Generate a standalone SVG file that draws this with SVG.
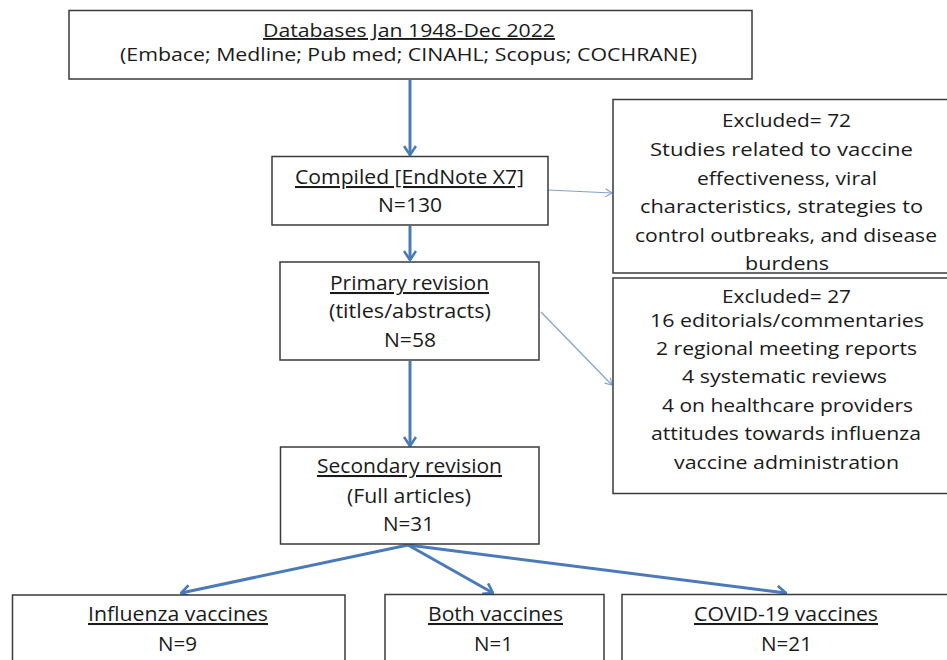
<svg xmlns="http://www.w3.org/2000/svg" width="947" height="660" viewBox="0 0 947 660">
<style>
.box{fill:#fff;stroke:#3a3a3a;stroke-width:1.5}
text{font-family:"Open Sans","Liberation Sans",sans-serif;font-size:19px;fill:#1a1a1a;text-anchor:middle}
.m text{font-size:20.5px}
.b text{font-size:20.5px}
.e text{font-size:18.5px}
.u{text-decoration:underline}
.thick{stroke:#4a7ab8;stroke-width:3;fill:none}
.thin{stroke:#7fa2cf;stroke-width:1.2;fill:none}
</style>
<defs>
<marker id="ah" viewBox="0 0 12 14" markerWidth="12" markerHeight="14" refX="11" refY="7" orient="auto" markerUnits="userSpaceOnUse">
<path d="M2,1 L11,7 L2,13" fill="none" stroke="#4a7ab8" stroke-width="2.6"/>
</marker>
<marker id="ahs" viewBox="0 0 8 10" markerWidth="8" markerHeight="10" refX="7.5" refY="5" orient="auto" markerUnits="userSpaceOnUse">
<path d="M1,1 L7.5,5 L1,9" fill="none" stroke="#7fa2cf" stroke-width="1.1"/>
</marker>
</defs>
<rect width="947" height="660" fill="#fff"/>

<g id="connectors">
<line class="thick" x1="410" y1="80" x2="410" y2="155" marker-end="url(#ah)"/>
<line class="thick" x1="410" y1="226" x2="410" y2="260" marker-end="url(#ah)"/>
<line class="thick" x1="410" y1="361" x2="410" y2="446" marker-end="url(#ah)"/>
<line class="thick" x1="408" y1="545" x2="181" y2="593" marker-end="url(#ah)"/>
<line class="thick" x1="408" y1="545" x2="493" y2="593" marker-end="url(#ah)"/>
<line class="thick" x1="408" y1="545" x2="786" y2="593" marker-end="url(#ah)"/>
<line class="thin" x1="548" y1="190" x2="612" y2="193" marker-end="url(#ahs)"/>
<line class="thin" x1="541" y1="312" x2="612" y2="385" marker-end="url(#ahs)"/>
</g>

<g id="databases">
<rect class="box" x="69" y="10.5" width="683" height="68.5"/>
<text class="u" x="409" y="37" textLength="292" lengthAdjust="spacingAndGlyphs">Databases Jan 1948-Dec 2022</text>
<text x="408.5" y="61" textLength="577" lengthAdjust="spacingAndGlyphs">(Embace; Medline; Pub med; CINAHL; Scopus; COCHRANE)</text>
</g>

<g id="compiled" class="m">
<rect class="box" x="272" y="156.5" width="276" height="68.5"/>
<text class="u" x="409.5" y="184" textLength="229" lengthAdjust="spacingAndGlyphs">Compiled [EndNote X7]</text>
<text x="410" y="212" textLength="64" lengthAdjust="spacingAndGlyphs">N=130</text>
</g>

<g id="primary" class="m">
<rect class="box" x="280" y="262" width="259" height="98"/>
<text class="u" x="409.5" y="290" textLength="159" lengthAdjust="spacingAndGlyphs">Primary revision</text>
<text x="410" y="318" textLength="162" lengthAdjust="spacingAndGlyphs">(titles/abstracts)</text>
<text x="410" y="347" textLength="52" lengthAdjust="spacingAndGlyphs">N=58</text>
</g>

<g id="excluded72" class="e">
<rect class="box" x="613" y="99.5" width="360" height="173.5"/>
<text x="786.5" y="127" textLength="129" lengthAdjust="spacingAndGlyphs">Excluded= 72</text>
<text x="781.5" y="156" textLength="263" lengthAdjust="spacingAndGlyphs">Studies related to vaccine</text>
<text x="787" y="185" textLength="180" lengthAdjust="spacingAndGlyphs">effectiveness, viral</text>
<text x="781.5" y="213" textLength="283" lengthAdjust="spacingAndGlyphs">characteristics, strategies to</text>
<text x="786" y="242" textLength="302" lengthAdjust="spacingAndGlyphs">control outbreaks, and disease</text>
<text x="787" y="270" textLength="84" lengthAdjust="spacingAndGlyphs">burdens</text>
</g>

<g id="excluded27" class="e">
<rect class="box" x="613" y="278" width="360" height="215.5"/>
<text x="786.5" y="303" textLength="129" lengthAdjust="spacingAndGlyphs">Excluded= 27</text>
<text x="787" y="327" textLength="274" lengthAdjust="spacingAndGlyphs">16 editorials/commentaries</text>
<text x="786.5" y="355" textLength="261" lengthAdjust="spacingAndGlyphs">2 regional meeting reports</text>
<text x="784.5" y="383" textLength="205" lengthAdjust="spacingAndGlyphs">4 systematic reviews</text>
<text x="787.5" y="412" textLength="251" lengthAdjust="spacingAndGlyphs">4 on healthcare providers</text>
<text x="786" y="440" textLength="270" lengthAdjust="spacingAndGlyphs">attitudes towards influenza</text>
<text x="786.5" y="469" textLength="225" lengthAdjust="spacingAndGlyphs">vaccine administration</text>
</g>

<g id="secondary" class="b">
<rect class="box" x="280.5" y="447" width="258.5" height="97"/>
<text class="u" x="409.5" y="473" textLength="185" lengthAdjust="spacingAndGlyphs">Secondary revision</text>
<text x="409" y="503" textLength="124" lengthAdjust="spacingAndGlyphs">(Full articles)</text>
<text x="408.5" y="531" textLength="51" lengthAdjust="spacingAndGlyphs">N=31</text>
</g>

<g id="influenza" class="b">
<rect class="box" x="12.5" y="595" width="332.5" height="80"/>
<text class="u" x="178" y="621" textLength="180" lengthAdjust="spacingAndGlyphs">Influenza vaccines</text>
<text x="177.5" y="651" textLength="39" lengthAdjust="spacingAndGlyphs">N=9</text>
</g>

<g id="both" class="b">
<rect class="box" x="385" y="594.5" width="219" height="80"/>
<text class="u" x="495.5" y="621" textLength="135" lengthAdjust="spacingAndGlyphs">Both vaccines</text>
<text x="493.5" y="651" textLength="39" lengthAdjust="spacingAndGlyphs">N=1</text>
</g>

<g id="covid" class="b">
<rect class="box" x="622" y="594.5" width="350" height="80"/>
<text class="u" x="786" y="621" textLength="184" lengthAdjust="spacingAndGlyphs">COVID-19 vaccines</text>
<text x="786.5" y="651" textLength="51" lengthAdjust="spacingAndGlyphs">N=21</text>
</g>
</svg>
